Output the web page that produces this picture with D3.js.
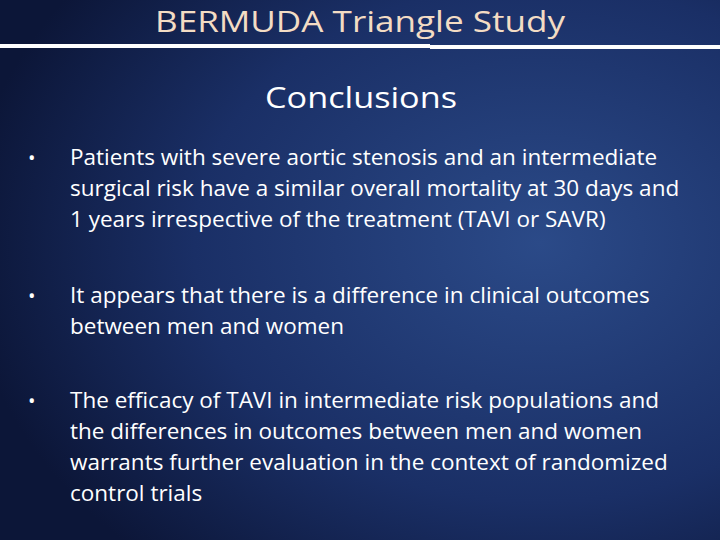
<!DOCTYPE html><html><head><meta charset="utf-8"><script src="https://cdn.jsdelivr.net/npm/d3@7"></script>
<style>body{margin:0;background:#0d1a40}</style></head><body><script>
const title="BERMUDA Triangle Study";
const heading="Conclusions";
const bullets=[
["Patients with severe aortic stenosis and an intermediate","surgical risk have a similar overall mortality at 30 days and","1 years irrespective of the treatment (TAVI or SAVR)"],
["It appears that there is a difference in clinical outcomes","between men and women"],
["The efficacy of TAVI in intermediate risk populations and","the differences in outcomes between men and women","warrants further evaluation in the context of randomized","control trials"]];
const bulletY=[165,303,408];
const W=720,H=540,F="'Open Sans', sans-serif";
const svg=d3.select("body").append("svg").attr("width",W).attr("height",H);
const g=svg.append("defs").append("radialGradient").attr("id","bg").attr("cx","0.75").attr("cy","0.45").attr("r","0.8");
g.append("stop").attr("offset","0").attr("stop-color","#2b4a88");
g.append("stop").attr("offset","0.6").attr("stop-color","#1a2f66");
g.append("stop").attr("offset","1").attr("stop-color","#0c1638");
svg.append("rect").attr("width",W).attr("height",H).attr("fill","url(#bg)");
svg.append("rect").attr("x",0).attr("y",44).attr("width",430).attr("height",4).attr("fill","#fff");
svg.append("rect").attr("x",430).attr("y",45).attr("width",290).attr("height",4).attr("fill","#fff");
svg.append("text").attr("x",360).attr("y",32).attr("text-anchor","middle").attr("font-family",F).attr("font-size",30).attr("fill","#f3dcc4").attr("textLength",410).attr("lengthAdjust","spacingAndGlyphs").text(title);
svg.append("text").attr("x",361).attr("y",108).attr("text-anchor","middle").attr("font-family",F).attr("font-size",30).attr("fill","#fff").attr("textLength",192).attr("lengthAdjust","spacingAndGlyphs").text(heading);
const y=d3.scaleLinear().domain([0,1]).range([0,31]);
bullets.forEach((b,i)=>{
 svg.append("text").attr("x",28).attr("y",bulletY[i]).attr("font-family",F).attr("font-size",20).attr("fill","#fff").text("•");
 b.forEach((l,j)=>svg.append("text").attr("x",70).attr("y",bulletY[i]+y(j)).attr("font-family",F).attr("font-size",22.5).attr("fill","#fff").text(l));
});
</script></body></html>
